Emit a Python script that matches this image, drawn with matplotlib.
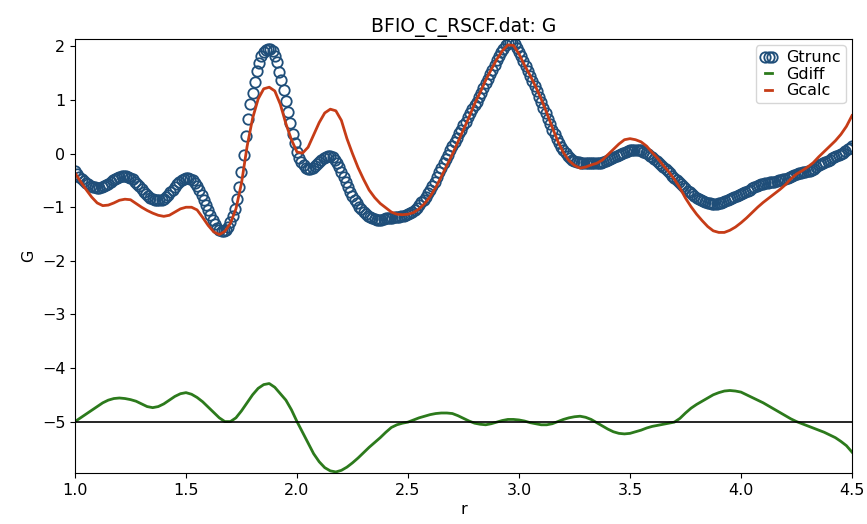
import matplotlib
matplotlib.use('Agg')
import matplotlib.pyplot as plt
import numpy as np

# Gtrunc: one value every 0.01 from r = 1.00 to 4.50
gtrunc = [
    -0.33, -0.38, -0.43, -0.47, -0.51, -0.54, -0.57, -0.60, -0.62, -0.63,  # 1.00
    -0.64, -0.64, -0.63, -0.61, -0.59, -0.56, -0.53, -0.50, -0.47, -0.45,  # 1.10
    -0.43, -0.42, -0.42, -0.42, -0.43, -0.45, -0.48, -0.52, -0.56, -0.61,  # 1.20
    -0.66, -0.71, -0.75, -0.79, -0.82, -0.85, -0.86, -0.87, -0.87, -0.86,  # 1.30
    -0.84, -0.81, -0.77, -0.72, -0.67, -0.62, -0.57, -0.53, -0.49, -0.47,  # 1.40
    -0.46, -0.46, -0.47, -0.50, -0.54, -0.60, -0.68, -0.77, -0.86, -0.96,  # 1.50
    -1.06, -1.15, -1.24, -1.32, -1.39, -1.43, -1.45, -1.45, -1.42, -1.36,  # 1.60
    -1.28, -1.17, -1.03, -0.85, -0.62, -0.35, -0.02, 0.33, 0.65, 0.93,     # 1.70
    1.13, 1.33, 1.55, 1.70, 1.82, 1.90, 1.93, 1.95, 1.95, 1.91,            # 1.80
    1.83, 1.71, 1.53, 1.38, 1.19, 0.99, 0.78, 0.57, 0.37, 0.19,            # 1.90
    0.03, -0.08, -0.16, -0.22, -0.26, -0.28, -0.28, -0.26, -0.23, -0.19,   # 2.00
    -0.15, -0.11, -0.08, -0.06, -0.05, -0.05, -0.07, -0.11, -0.17, -0.25,  # 2.10
    -0.34, -0.43, -0.52, -0.62, -0.71, -0.79, -0.86, -0.93, -0.99, -1.04,  # 2.20
    -1.09, -1.13, -1.16, -1.19, -1.21, -1.22, -1.23, -1.23, -1.23, -1.22,  # 2.30
    -1.21, -1.21, -1.20, -1.20, -1.19, -1.19, -1.18, -1.17, -1.16, -1.15,  # 2.40
    -1.13, -1.11, -1.08, -1.05, -1.01, -0.96, -0.91, -0.86, -0.80, -0.74,  # 2.50
    -0.67, -0.60, -0.52, -0.44, -0.35, -0.27, -0.18, -0.10, -0.02, 0.06,   # 2.60
    0.14, 0.22, 0.30, 0.38, 0.45, 0.53, 0.60, 0.68, 0.75, 0.83,            # 2.70
    0.90, 0.97, 1.05, 1.13, 1.22, 1.31, 1.40, 1.49, 1.57, 1.66,            # 2.80
    1.74, 1.82, 1.89, 1.96, 2.02, 2.06, 2.08, 2.07, 2.04, 1.98,            # 2.90
    1.90, 1.82, 1.72, 1.63, 1.54, 1.45, 1.36, 1.26, 1.16, 1.06,            # 3.00
    0.96, 0.85, 0.75, 0.65, 0.55, 0.45, 0.36, 0.27, 0.19, 0.12,            # 3.10
    0.06, 0.01, -0.04, -0.08, -0.11, -0.13, -0.15, -0.16, -0.17, -0.18,    # 3.20
    -0.18, -0.18, -0.18, -0.18, -0.18, -0.18, -0.18, -0.17, -0.16, -0.14,  # 3.30
    -0.12, -0.10, -0.08, -0.06, -0.04, -0.02, 0.00, 0.02, 0.04, 0.05,      # 3.40
    0.06, 0.07, 0.07, 0.07, 0.07, 0.06, 0.04, 0.02, -0.01, -0.04,          # 3.50
    -0.07, -0.10, -0.13, -0.17, -0.21, -0.25, -0.29, -0.33, -0.37, -0.41,  # 3.60
    -0.45, -0.49, -0.53, -0.57, -0.61, -0.65, -0.69, -0.72, -0.76, -0.79,  # 3.70
    -0.82, -0.85, -0.87, -0.89, -0.91, -0.92, -0.93, -0.94, -0.94, -0.94,  # 3.80
    -0.93, -0.92, -0.91, -0.89, -0.87, -0.85, -0.83, -0.81, -0.79, -0.77,  # 3.90
    -0.75, -0.73, -0.71, -0.69, -0.67, -0.65, -0.63, -0.61, -0.59, -0.57,  # 4.00
    -0.56, -0.55, -0.54, -0.53, -0.52, -0.52, -0.51, -0.50, -0.49, -0.48,  # 4.10
    -0.47, -0.45, -0.43, -0.41, -0.39, -0.38, -0.37, -0.36, -0.35, -0.34,  # 4.20
    -0.33, -0.32, -0.30, -0.28, -0.25, -0.22, -0.19, -0.17, -0.15, -0.13,  # 4.30
    -0.11, -0.09, -0.07, -0.05, -0.03, -0.01, 0.02, 0.05, 0.08, 0.11,      # 4.40
    0.14,                                                                  # 4.50
]

# Gcalc and Gdiff: one value every 0.025 from r = 1.000 to 4.500
gcalc = [
    -0.36, -0.52, -0.67, -0.81, -0.92, -0.97, -0.96, -0.92,  # 1.000
    -0.87, -0.85, -0.86, -0.93, -1.00, -1.06, -1.11, -1.15,  # 1.200
    -1.17, -1.15, -1.09, -1.03, -1.00, -1.00, -1.05, -1.19,  # 1.400
    -1.34, -1.46, -1.51, -1.45, -1.30, -1.03, -0.55, 0.13,   # 1.600
    0.66, 1.02, 1.21, 1.24, 1.17, 0.92, 0.56, 0.26,          # 1.800
    0.03, 0.01, 0.12, 0.35, 0.58, 0.76, 0.83, 0.80,          # 2.000
    0.62, 0.28, 0.00, -0.26, -0.48, -0.68, -0.82, -0.93,     # 2.200
    -1.01, -1.09, -1.13, -1.14, -1.13, -1.10, -1.03, -0.93,  # 2.400
    -0.80, -0.63, -0.43, -0.22, -0.01, 0.22, 0.45, 0.68,     # 2.600
    0.93, 1.14, 1.37, 1.57, 1.76, 1.92, 2.03, 2.02,          # 2.800
    1.86, 1.65, 1.46, 1.25, 1.02, 0.76, 0.49, 0.23,          # 3.000
    0.02, -0.13, -0.22, -0.27, -0.25, -0.21, -0.18, -0.12,   # 3.200
    -0.02, 0.08, 0.18, 0.26, 0.28, 0.26, 0.22, 0.14,         # 3.400
    0.02, -0.09, -0.22, -0.34, -0.48, -0.64, -0.83, -0.99,   # 3.600
    -1.13, -1.25, -1.36, -1.44, -1.47, -1.47, -1.43, -1.37,  # 3.800
    -1.29, -1.20, -1.10, -1.00, -0.91, -0.83, -0.75, -0.67,  # 4.000
    -0.58, -0.47, -0.38, -0.32, -0.25, -0.17, -0.06, 0.04,   # 4.200
    0.14, 0.24, 0.36, 0.51, 0.71,                            # 4.400
]

gdiff = [
    0.00, 0.07, 0.14, 0.21, 0.28, 0.35, 0.40, 0.43,          # 1.000
    0.44, 0.43, 0.41, 0.38, 0.33, 0.28, 0.26, 0.28,          # 1.200
    0.33, 0.40, 0.47, 0.52, 0.54, 0.51, 0.45, 0.37,          # 1.400
    0.27, 0.17, 0.07, 0.00, 0.00, 0.07, 0.20, 0.35,          # 1.600
    0.50, 0.62, 0.69, 0.71, 0.64, 0.52, 0.40, 0.22,          # 1.800
    0.00, -0.20, -0.40, -0.60, -0.75, -0.86, -0.92, -0.94,   # 2.000
    -0.91, -0.85, -0.77, -0.68, -0.58, -0.48, -0.39, -0.30,  # 2.200
    -0.20, -0.11, -0.06, -0.03, -0.01, 0.03, 0.07, 0.10,     # 2.400
    0.13, 0.15, 0.16, 0.16, 0.15, 0.11, 0.06, 0.01,          # 2.600
    -0.03, -0.05, -0.06, -0.04, -0.01, 0.02, 0.04, 0.04,     # 2.800
    0.03, 0.01, -0.02, -0.04, -0.06, -0.06, -0.04, 0.00,     # 3.000
    0.04, 0.07, 0.09, 0.10, 0.08, 0.04, -0.02, -0.08,        # 3.200
    -0.14, -0.19, -0.22, -0.23, -0.22, -0.19, -0.16, -0.12,  # 3.400
    -0.09, -0.07, -0.05, -0.03, -0.01, 0.06, 0.16, 0.25,     # 3.600
    0.32, 0.38, 0.44, 0.50, 0.54, 0.57, 0.58, 0.57,          # 3.800
    0.55, 0.50, 0.45, 0.40, 0.35, 0.29, 0.23, 0.17,          # 4.000
    0.11, 0.05, 0.00, -0.04, -0.08, -0.12, -0.16, -0.20,     # 4.200
    -0.25, -0.30, -0.37, -0.45, -0.57,                       # 4.400
]

diff_offset = -5.0

r_trunc = np.linspace(1.0, 4.5, len(gtrunc))
r_fit = np.linspace(1.0, 4.5, len(gcalc))

plt.rcParams['font.size'] = 11.5

fig = plt.figure(figsize=(8.67, 5.24), dpi=100)
ax = fig.add_axes([0.0865, 0.0973, 0.8962, 0.8283])

ax.plot(r_trunc, gtrunc, 'o', mfc='none', mec='#1f4e79', ms=7.5, mew=1.3,
        label='Gtrunc')
ax.plot(r_fit, np.array(gdiff) + diff_offset, color='#2c7a1c', lw=2,
        label='Gdiff')
ax.plot(r_fit, gcalc, color='#c63c17', lw=2, label='Gcalc')
ax.axhline(diff_offset, color='black', lw=1.2)

ax.set_xlim(1.0, 4.5)
ax.set_ylim(-5.96, 2.14)
ax.set_xticks(np.arange(1.0, 4.51, 0.5))
ax.set_title('BFIO_C_RSCF.dat: G', fontsize=13.5, pad=5)
ax.set_xlabel('r', labelpad=3)
ax.set_ylabel('G')
ax.legend(loc='upper right', numpoints=3, handlelength=1.0,
          borderaxespad=0.4, labelspacing=0.1, borderpad=0.3,
          handletextpad=0.6)

fig.savefig('out.png', dpi=100)
